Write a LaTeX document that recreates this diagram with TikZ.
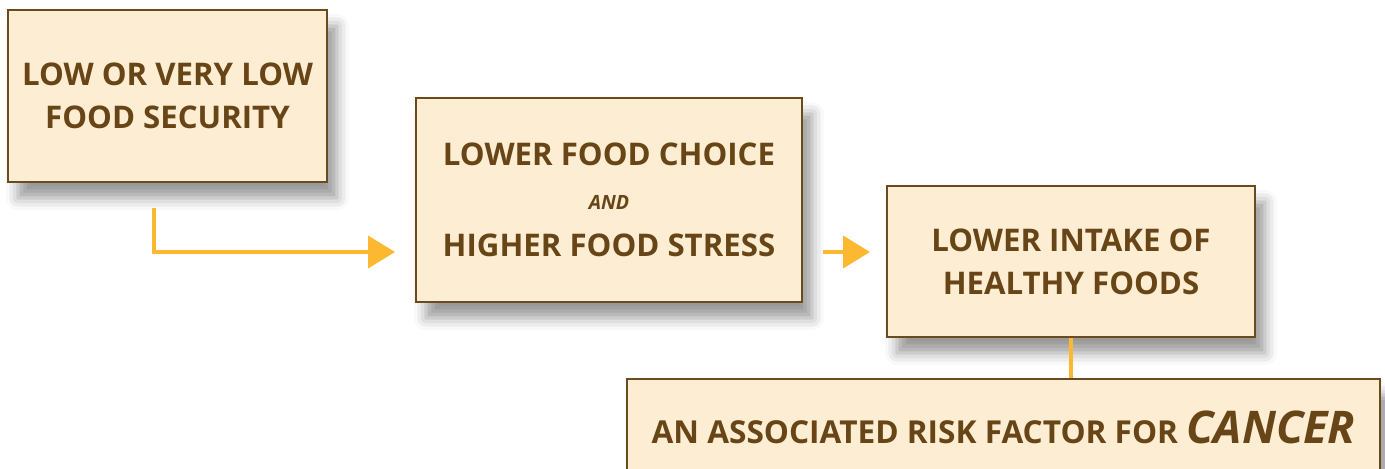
\documentclass[tikz,border=0pt]{standalone}
\usepackage{fontspec}
\setmainfont{Open Sans}
\usetikzlibrary{arrows.meta,shadows.blur}

\definecolor{boxfill}{HTML}{FDEDD3}
\definecolor{boxline}{HTML}{6B4A1F}
\definecolor{textbrown}{HTML}{684517}
\definecolor{arrowyellow}{HTML}{FBB830}

\tikzset{
  factor/.style={draw=boxline, line width=1.2pt, fill=boxfill, text=textbrown,
    inner sep=0pt, align=center, font=\fontsize{15.6}{21.5}\selectfont\bfseries,
    blur shadow={shadow xshift=5pt, shadow yshift=-8pt, shadow blur radius=6pt, shadow opacity=40}},
  flow/.style={draw=arrowyellow, line width=2pt, -{Triangle[length=13.5pt,width=16pt]}},
  link/.style={draw=arrowyellow, line width=2pt}
}

\begin{document}
\begin{tikzpicture}[x=0.5pt,y=-0.5pt]
      \useasboundingbox (0,0) rectangle (1385,468);
      \node[factor, minimum width=159.5pt, minimum height=86pt] (lowsec) at (167.5,96)
        {LOW OR VERY LOW\\FOOD SECURITY};
      \node[factor, minimum width=193pt, minimum height=102pt] (choice) at (609,200)
        {LOWER FOOD CHOICE\\[0.5pt]{\fontsize{9.8}{12}\selectfont\itshape AND}\\[2pt]HIGHER FOOD STRESS};
      \node[factor, minimum width=184pt, minimum height=75.5pt] (intake) at (1071,261.5)
        {LOWER INTAKE OF\\HEALTHY FOODS};
      \node[factor, minimum width=376.5pt, minimum height=48pt] (cancer) at (1003.5,427)
        {\fontsize{15.8}{18}\selectfont\bfseries AN ASSOCIATED RISK FACTOR FOR
         {\fontsize{22.5}{24}\selectfont\itshape CANCER}};
      \coordinate (lowsec out) at (154,208);
      \coordinate (choice in) at (395,252);
      \coordinate (choice out) at (823,252);
      \coordinate (intake in) at (870,252);
      \draw[flow] (lowsec out) |- (choice in);
      \draw[flow] (choice out) -- (intake in);
      \draw[link] (intake.south) -- (intake.south |- cancer.north);
    \end{tikzpicture}
\end{document}
